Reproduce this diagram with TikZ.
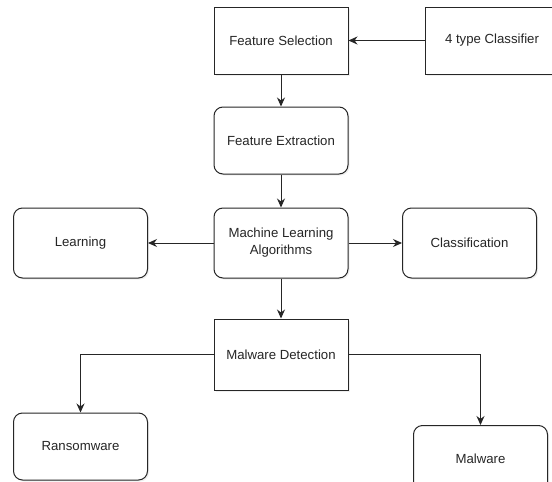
\documentclass[tikz,border=0pt]{standalone}
\usepackage{fontspec}
\setmainfont{Liberation Sans}
\usetikzlibrary{arrows.meta,shadows}
\begin{document}
\begin{tikzpicture}[x=1pt,y=-1pt,
  base/.style={draw=black!85, line width=1pt, fill=white, minimum width=134pt, minimum height=67pt,
    align=center, font=\fontsize{13.2}{17}\selectfont, text=black!85,
    drop shadow={shadow xshift=1.5pt, shadow yshift=-1.5pt, opacity=0.12}},
  sqbox/.style={base},
  rbox/.style={base, rounded corners=9pt},
  conn/.style={draw=black!85, line width=1pt, -{Stealth[length=9pt,width=8pt]}}]
\useasboundingbox (0,0) rectangle (552,482);
\clip (0,0) rectangle (552,482);
\fill[white] (0,0) rectangle (552,482);
\node[sqbox] (fs) at (281,40.5) {Feature Selection};
\node[sqbox] (tc) at (492,40.5) {4 type Classifier};
\node[rbox] (fe) at (281,140.5) {Feature Extraction};
\node[rbox, minimum height=70pt] (ml) at (281,243) {Machine Learning\\Algorithms};
\node[rbox, minimum height=70pt] (learn) at (80.5,243) {Learning};
\node[rbox, minimum height=70pt] (class) at (469.5,243) {Classification};
\node[sqbox, minimum height=71pt] (md) at (281,354.5) {Malware Detection};
\node[rbox] (rans) at (80.5,446.5) {Ransomware};
\node[rbox] (mal) at (480.5,459) {Malware};
\draw[conn] (tc.west) -- (fs.east);
\draw[conn] (fs.south) -- (fe.north);
\draw[conn] (fe.south) -- (ml.north);
\draw[conn] (ml.west) -- (learn.east);
\draw[conn] (ml.east) -- (class.west);
\draw[conn] (ml.south) -- (md.north);
\draw[conn] (md.west) -| (rans.north);
\draw[conn] (md.east) -| (mal.north);
\end{tikzpicture}
\end{document}
